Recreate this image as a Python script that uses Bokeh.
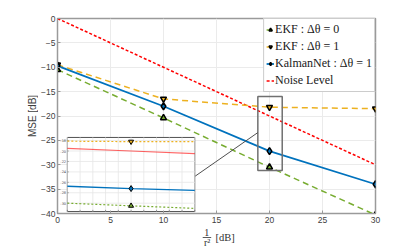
import numpy as np
from bokeh.plotting import figure
from bokeh.layouts import column, row
from bokeh.models import Range1d, Legend, LegendItem, FixedTicker
from bokeh.embed import file_html
from bokeh.resources import INLINE
from bokeh.core.properties import value

# ---- data ----
snr = [0, 10, 20, 30]
ekf0 = [-10.5, -20.4, -30.5, -40.3]
ekf1 = [-9.5, -16.5, -18.2, -18.5]
knet = [-9.7, -18.0, -27.2, -34.0]
noise = [0, -10, -20, -30]
x_ticks = [0, 5, 10, 15, 20, 25, 30]
y_ticks = [0, -5, -10, -15, -20, -25, -30, -35, -40]
inset_x_ticks = [19.5, 19.6, 19.7, 19.8, 19.9, 20.0, 20.1, 20.2, 20.3, 20.4, 20.5]
inset_y_ticks = [-30, -28, -26, -24, -22, -20, -18]

C_GREEN = "#77AC30"
C_ORANGE = "#EDB120"
C_BLUE = "#0072BD"
C_RED = "#FF0000"

LW = 38  # width of the y-label strip

p = figure(width=415 - LW, height=226, output_backend="svg", toolbar_location=None,
           x_range=Range1d(0, 30), y_range=Range1d(-40, 0),
           min_border_left=53 - LW, min_border_right=40, min_border_top=18, min_border_bottom=13)
p.outline_line_color = "#9a9a9a"
p.outline_line_width = 1.5
p.background_fill_color = "white"
p.border_fill_color = "white"

for ax in (p.xaxis[0], p.yaxis[0]):
    ax.axis_line_color = "#9a9a9a"
    ax.major_tick_line_color = "#9a9a9a"
    ax.major_tick_in = 3
    ax.major_tick_out = 0
    ax.minor_tick_line_color = None
    ax.major_label_text_font = "Liberation Sans"
    ax.major_label_text_font_size = "8.5px"
    ax.major_label_text_color = "#404040"
p.xaxis.ticker = FixedTicker(ticks=x_ticks)
p.yaxis.ticker = FixedTicker(ticks=y_ticks)
p.xaxis.major_label_standoff = 3
p.yaxis.major_label_standoff = 2
p.xgrid.grid_line_color = "#ebebeb"
p.ygrid.grid_line_color = "#ebebeb"

# ---- main curves ----
r_noise = p.line(snr, noise, color=C_RED, line_width=1.5, line_dash="3 2")
l_ekf1 = p.line(snr, ekf1, color=C_ORANGE, line_width=1.5, line_dash="6 4")
l_ekf0 = p.line(snr, ekf0, color=C_GREEN, line_width=1.5, line_dash="6 4")
l_knet = p.line(snr, knet, color=C_BLUE, line_width=1.8)
m_ekf0 = p.scatter(snr, ekf0, marker="triangle", size=6, fill_color=C_GREEN, line_color="black", line_width=1.5)
m_ekf1 = p.scatter(snr, ekf1, marker="inverted_triangle", size=6, fill_color=C_ORANGE, line_color="black", line_width=1.5)
m_knet = p.scatter(snr, knet, marker="diamond", size=7, fill_color=C_BLUE, line_color="black", line_width=1.5)

# ---- zoom rectangle in main axes ----
RX0, RX1, RY0, RY1 = 18.9, 21.2, -31.2, -16.0
p.quad(left=[RX0], right=[RX1], bottom=[RY0], top=[RY1], fill_color=None,
       line_color="#707070", line_width=1.5)

# ---- inset (drawn inside the main axes by mapping) ----
IX0, IX1, IY0, IY1 = 19.5, 20.5, -31.6, -17.4     # inset data range
PX0, PX1, PY0, PY1 = 0.93, 12.95, -39.6, -24.4    # inset placement (main data coords)

def mx(x):
    return PX0 + (np.asarray(x, float) - IX0) / (IX1 - IX0) * (PX1 - PX0)

def my(y):
    return PY0 + (np.asarray(y, float) - IY0) / (IY1 - IY0) * (PY1 - PY0)

# connector line
p.line([RX0, PX1], [-23.4, -32.4], color="#505050", line_width=1)

p.quad(left=[PX0], right=[PX1], bottom=[PY0], top=[PY1], fill_color="white",
       line_color="#505050", line_width=1)
for t in inset_x_ticks:
    p.line([mx(t), mx(t)], [PY0, PY1], color="#e6e6e6", line_width=0.8)
    p.line([mx(t), mx(t)], [PY0, PY0 + 0.35], color="#505050", line_width=0.6)
for t in inset_y_ticks:
    p.line([PX0, PX1], [my(t), my(t)], color="#e6e6e6", line_width=0.8)
    p.line([PX0, PX0 + 0.12], [my(t), my(t)], color="#505050", line_width=0.6)
p.text(x=list(mx(inset_x_ticks)), y=[PY0 - 0.35] * len(inset_x_ticks),
       text=[f"{t:g}" for t in inset_x_ticks], text_font_size="3.5px",
       text_align="center", text_baseline="top", text_color="#404040",
       text_font=value("DejaVu Sans"))
p.text(x=[PX0 - 0.12] * len(inset_y_ticks), y=list(my(inset_y_ticks)),
       text=[f"{t:g}" for t in inset_y_ticks], text_font_size="3.5px",
       text_align="right", text_baseline="middle", text_color="#404040",
       text_font=value("DejaVu Sans"))

ix = [IX0, 20.0, IX1]
p.line(mx(ix), my(np.interp(ix, snr, ekf1)), color=C_ORANGE, line_width=1.2, line_dash="2 2")
p.line(mx(ix), my(np.interp(ix, snr, noise)), color=C_RED, line_width=1.2, line_alpha=0.6)
p.line(mx(ix), my(np.interp(ix, snr, knet)), color=C_BLUE, line_width=1.4)
p.line(mx(ix), my(np.interp(ix, snr, ekf0)), color=C_GREEN, line_width=1.2, line_dash="2 2")
p.scatter(mx([snr[2]]), my([ekf1[2]]), marker="inverted_triangle", size=5, fill_color=C_ORANGE, line_color="black")
p.scatter(mx([snr[2]]), my([knet[2]]), marker="diamond", size=6, fill_color=C_BLUE, line_color="black")
p.scatter(mx([snr[2]]), my([ekf0[2]]), marker="triangle", size=5, fill_color=C_GREEN, line_color="black")

# ---- legend ----
legend = Legend(items=[
    LegendItem(label="EKF : Δθ = 0", renderers=[l_ekf0, m_ekf0]),
    LegendItem(label="EKF : Δθ = 1", renderers=[l_ekf1, m_ekf1]),
    LegendItem(label="KalmanNet : Δθ = 1", renderers=[l_knet, m_knet]),
    LegendItem(label="Noise Level", renderers=[r_noise]),
], location="top_right")
legend.margin = 0
legend.padding = 2
legend.spacing = 0
legend.glyph_width = 8
legend.glyph_height = 17
legend.label_height = 17
legend.label_standoff = 1
legend.label_text_font = "Liberation Serif"
legend.label_text_font_size = "12px"
legend.label_text_color = "#202020"
legend.border_line_color = "#9a9a9a"
legend.border_line_width = 1
legend.background_fill_alpha = 1
p.add_layout(legend)

# ---- x axis label strip: fraction 1 / r^2 [dB] ----
q = figure(width=415 - LW, height=21, output_backend="svg", toolbar_location=None,
           x_range=Range1d(0, 30), y_range=Range1d(21, 0),
           min_border_left=53 - LW, min_border_right=40, min_border_top=0, min_border_bottom=0)
q.axis.visible = False
q.grid.visible = False
q.outline_line_color = None
q.border_fill_color = "white"
lab = dict(text_font=value("Liberation Serif"), text_color="#303030", text_baseline="middle")
q.text(x=[14.07], y=[6.0], text=["1"], text_font_size="10px", text_align="center", **lab)
q.line([13.7, 14.5], [11.0, 11.0], color="#303030", line_width=0.8)
q.text(x=[14.12], y=[15.8], text=["r²"], text_font_size="10px", text_align="center", **lab)
q.text(x=[14.9], y=[11.3], text=["[dB]"], text_font_size="10.5px", text_align="left", **lab)

# ---- y axis label strip: MSE [dB] ----
yl = figure(width=LW, height=247, output_backend="svg", toolbar_location=None,
            x_range=Range1d(0, LW), y_range=Range1d(247, 0),
            min_border_left=0, min_border_right=0, min_border_top=0, min_border_bottom=0)
yl.axis.visible = False
yl.grid.visible = False
yl.outline_line_color = None
yl.border_fill_color = "white"
yl.text(x=[32], y=[115.5], text=["MSE [dB]"], angle=np.pi / 2, text_font_size="10px",
        text_align="center", text_baseline="middle", text_color="#404040",
        text_font=value("Liberation Sans"))

open("out.html", "w").write(file_html(row(yl, column(p, q, spacing=0), spacing=0), INLINE))
